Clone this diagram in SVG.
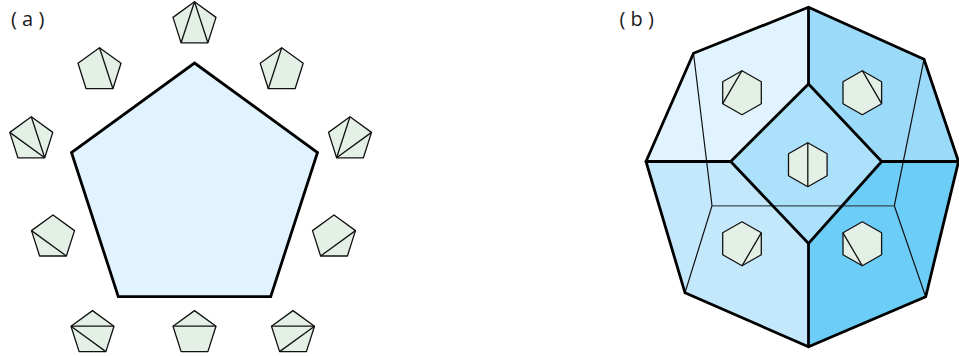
<svg xmlns="http://www.w3.org/2000/svg" width="959" height="356" viewBox="0 0 959 356">
<style>
.lbl{font-family:"Open Sans","Noto Sans",sans-serif;font-size:20px;fill:#1a1a1a}
.sm{fill:#e4f0e6;stroke:#111;stroke-width:1.3;stroke-linejoin:round}
.d{fill:none;stroke:#111;stroke-width:1.3}
.thick{fill:none;stroke:#000;stroke-width:2.8;stroke-linejoin:miter;stroke-linecap:round}
.thin{fill:none;stroke:#111;stroke-width:1.2}
</style>
<defs>
<polygon id="pent" class="sm" points="0,0 21.5,15.6 13.4,41 -13.4,41 -21.5,15.6"/>
<polygon id="hex" class="sm" points="0,-22 19.3,-11 19.3,11 0,22 -19.3,11 -19.3,-11"/>
</defs>
<rect width="959" height="356" fill="#fff"/>
<text class="lbl" x="11" y="26" xml:space="preserve">( a )</text>
<text class="lbl" x="619.5" y="26" xml:space="preserve">( b )</text>

<g id="big-pentagon"><polygon points="194.5,63 317.5,152.5 270.7,296.6 118.3,296.6 71.5,152.5" fill="#e0f3fe" stroke="#000" stroke-width="2.8"/></g>

<g id="p-top" transform="translate(194.5 1.8)"><use href="#pent"/><path class="d" d="M0 0L-13.4 41M0 0L13.4 41"/></g>
<g id="p-upper-right" transform="translate(281.7 47.7)"><use href="#pent"/><path class="d" d="M0 0L-13.4 41"/></g>
<g id="p-right" transform="translate(350 116.8)"><use href="#pent"/><path class="d" d="M0 0L-13.4 41M21.5 15.6L-13.4 41"/></g>
<g id="p-lower-right" transform="translate(334 215)"><use href="#pent"/><path class="d" d="M21.5 15.6L-13.4 41"/></g>
<g id="p-bottom-right" transform="translate(293 310.6)"><use href="#pent"/><path class="d" d="M-21.5 15.6H21.5M21.5 15.6L-13.4 41"/></g>
<g id="p-bottom" transform="translate(194.5 310.6)"><use href="#pent"/><path class="d" d="M-21.5 15.6H21.5"/></g>
<g id="p-bottom-left" transform="translate(92.5 310.6)"><use href="#pent"/><path class="d" d="M-21.5 15.6H21.5M-21.5 15.6L13.4 41"/></g>
<g id="p-lower-left" transform="translate(53 215)"><use href="#pent"/><path class="d" d="M-21.5 15.6L13.4 41"/></g>
<g id="p-left" transform="translate(31.3 116.8)"><use href="#pent"/><path class="d" d="M0 0L13.4 41M-21.5 15.6L13.4 41"/></g>
<g id="p-upper-left" transform="translate(99.5 47.7)"><use href="#pent"/><path class="d" d="M0 0L13.4 41"/></g>

<g id="region-top-left"><polygon points="808.5,7.3 693.5,53.3 646,161.5 730.7,161.5 808.5,84" fill="#e0f3fe"/></g>
<g id="region-top-right"><polygon points="808.5,7.3 924,59.3 958.5,161.5 881.7,161.5 808.5,84" fill="#9cdaf9"/></g>
<g id="region-bottom-left"><polygon points="646,161.5 685,292.8 808.5,346.8 808.5,243.5 730.7,161.5" fill="#c4e8fb"/></g>
<g id="region-bottom-right"><polygon points="958.5,161.5 925.7,296.8 808.5,346.8 808.5,243.5 881.7,161.5" fill="#6ccdf7"/></g>
<g id="region-center"><polygon points="808.5,84 881.7,161.5 808.5,243.5 730.7,161.5" fill="#abe1fa"/></g>

<g id="connectors">
<path class="thin" d="M693.5 53.3L712 205.8L685 292.8M924 59.3L894.3 205.8L925.7 296.8"/>
<path d="M712 205.8H894.3" fill="none" stroke="#3a4a52" stroke-width="1.2"/>
<path class="thick" d="M808.5 7.3L693.5 53.3L646 161.5L685 292.8L808.5 346.8L925.7 296.8L958.5 161.5L924 59.3Z"/>
<path class="thick" d="M808.5 84L881.7 161.5L808.5 243.5L730.7 161.5Z"/>
<path class="thick" d="M808.5 7.3V84M808.5 243.5V346.8M646 161.5H730.7M881.7 161.5H958.5"/>
</g>

<g id="h-top-left" transform="translate(742 92.7)"><use href="#hex"/><path class="d" d="M0 -22L-19.3 11"/></g>
<g id="h-top-right" transform="translate(862.3 92.7)"><use href="#hex"/><path class="d" d="M0 -22L19.3 11"/></g>
<g id="h-center" transform="translate(807.8 164.7)"><use href="#hex"/><path class="d" d="M0 -22V22"/></g>
<g id="h-bottom-left" transform="translate(742 243.8)"><use href="#hex"/><path class="d" d="M19.3 -11L0 22"/></g>
<g id="h-bottom-right" transform="translate(862.3 243.8)"><use href="#hex"/><path class="d" d="M-19.3 -11L0 22"/></g>
</svg>
